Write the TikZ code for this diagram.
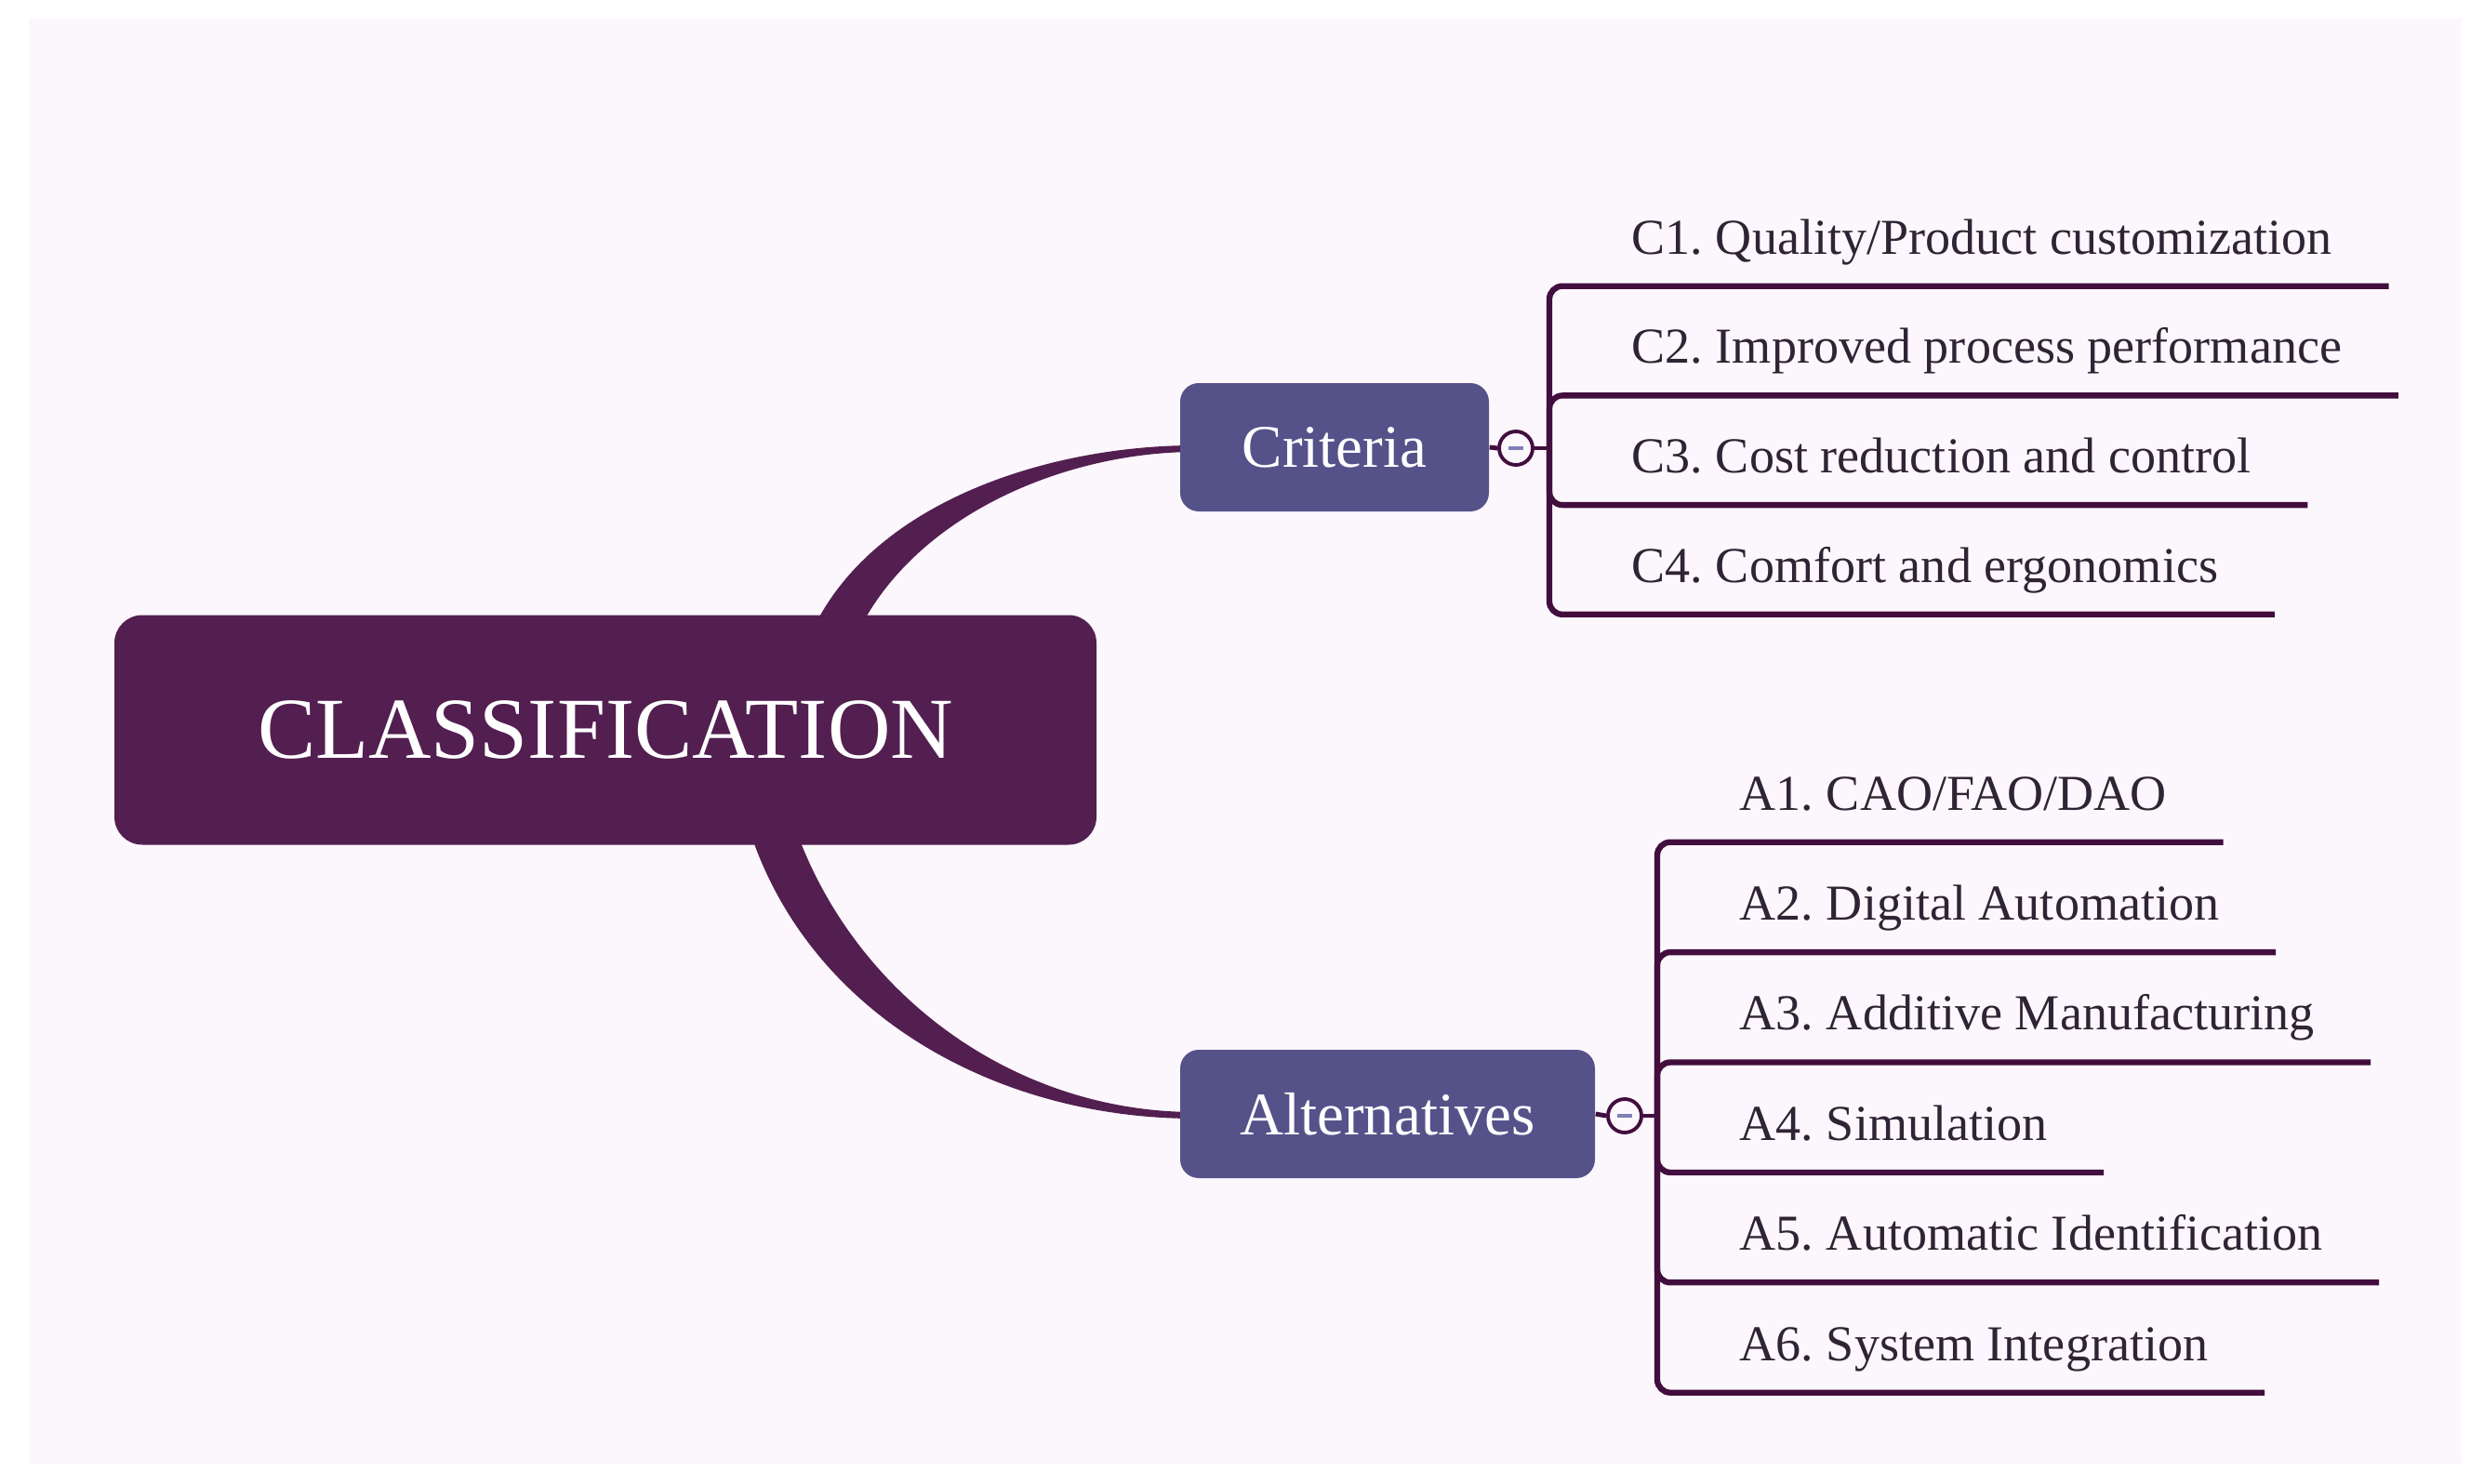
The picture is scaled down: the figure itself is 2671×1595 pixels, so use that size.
\documentclass[tikz,border=0pt]{standalone}
\usepackage{fontspec}
\setmainfont{Liberation Serif}
\frenchspacing
\usetikzlibrary{positioning, calc}

\definecolor{plum}{RGB}{82,31,80}
\definecolor{slate}{RGB}{85,82,138}
\definecolor{twig}{RGB}{66,14,62}
\definecolor{paper}{RGB}{252,247,252}
\definecolor{ink}{RGB}{47,36,51}
\definecolor{minuscol}{RGB}{128,128,184}

\begin{document}
\begin{tikzpicture}[
  x=0.1mm, y=-0.1mm,
  font=\fontsize{15.4}{18}\selectfont,
  root/.style={fill=plum, rounded corners=3mm, minimum width=10.56cm, minimum height=2.47cm,
    text=white, font=\fontsize{26.6}{32}\selectfont},
  topic/.style={fill=slate, rounded corners=2mm, minimum height=1.38cm,
    text=white, font=\fontsize{18.5}{22}\selectfont},
  toggle/.style={circle, draw=twig, line width=1.1pt, fill=paper, minimum size=0.36cm, inner sep=0pt},
  stub/.style={draw=twig, line width=1.4pt},
  twigline/.style={draw=twig, line width=1.8pt, rounded corners=4pt},
  leaf/.style={anchor=base west, inner xsep=0.6cm, inner ysep=0pt,
    text height=0.4cm, text depth=0.34cm, text=ink},
  trunk/.style={fill=plum}
]

% page and background panel
\useasboundingbox (0,0) rectangle (2671,1595);
\fill[paper] (31,20) rectangle (2647,1575);

% tapered branches from the root to the two topics
\fill[trunk] (875,675) .. controls (942,538) and (1130,479) .. (1285,479)
  -- (1285,486) .. controls (1150,486) and (990,550) .. (925,675) -- cycle;
\fill[trunk] (806,893) .. controls (870,1090) and (1070,1203) .. (1285,1203)
  -- (1285,1196) .. controls (1090,1196) and (920,1070) .. (856,893) -- cycle;

% root and topics
\node[root] (cls) at (651,785) {CLASSIFICATION};
\node[topic, minimum width=3.32cm] (crit) at (1435,481) {Criteria};
\node[topic, minimum width=4.46cm] (alt) at (1492,1198) {Alternatives};

% collapse toggles and junctions
\node[toggle] (cc) at (1630,482) {\color{minuscol}\rule{1.6mm}{0.9pt}};
\node[toggle] (ac) at (1747,1200) {\color{minuscol}\rule{1.6mm}{0.9pt}};
\coordinate (cj) at (1666,482);
\coordinate (aj) at (1782,1200);
\draw[stub] (crit.east) -- (cc.west);
\draw[stub] (cc.east) -- (cj);
\draw[stub] (alt.east) -- (ac.west);
\draw[stub] (ac.east) -- (aj);

% criteria leaves
\foreach \txt [count=\i] in {C1. Quality/Product customization, C2. Improved process performance,
    C3. Cost reduction and control, C4. Comfort and ergonomics} {
  \node[leaf] (c\i) at (1694, {273+117.7*(\i-1)}) {\txt};
  \draw[twigline] (cj) |- (c\i.south east);
}

% alternative leaves
\foreach \txt [count=\i] in {A1. CAO/FAO/DAO, A2. Digital Automation, A3. Additive Manufacturing,
    A4. Simulation, A5. Automatic Identification, A6. System Integration} {
  \node[leaf] (a\i) at (1810, {871+118.4*(\i-1)}) {\txt};
  \draw[twigline] (aj) |- (a\i.south east);
}

\end{tikzpicture}
\end{document}
